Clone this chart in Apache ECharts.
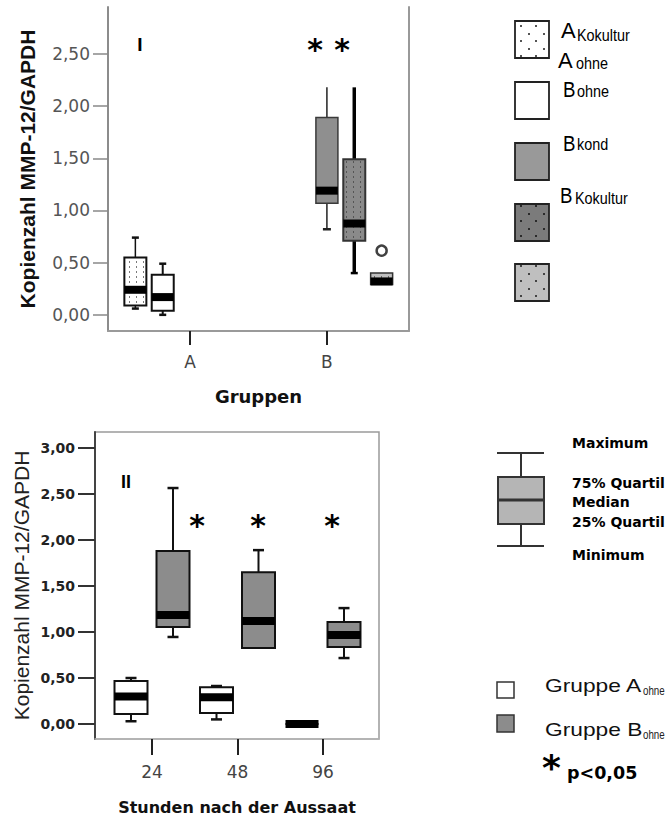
<!DOCTYPE html>
<html><head><meta charset="utf-8">
<script src="https://cdn.jsdelivr.net/npm/echarts@6/dist/echarts.min.js"></script>
<style>html,body{margin:0;padding:0;background:#fff}#c{width:666px;height:818px}</style>
</head><body><div id="c"></div>
<script>
// ---------- Panel I data ----------
const groupsI = ['A', 'B'];
const seriesNamesI = ['A Kokultur', 'A ohne', 'B ohne', 'B kond', 'B Kokultur'];
const seriesGroupI = [0, 0, 1, 1, 1];
// [min, q1, median, q3, max]
const statsI = [
  [0.06, 0.09, 0.24, 0.55, 0.74],
  [0.00, 0.04, 0.17, 0.385, 0.49],
  [0.82, 1.07, 1.19, 1.89, 2.18],
  [0.40, 0.71, 0.875, 1.49, 2.18],
  [0.29, 0.29, 0.32, 0.40, 0.40]
];
const outliersI = [[4, 0.615]];          // [series index, value]
const yTicksI = [0, 0.5, 1, 1.5, 2, 2.5];
const legendMainI = ['A', 'A', 'B', 'B', 'B'];
const legendSubI = ['Kokultur', 'ohne', 'ohne', 'kond', 'Kokultur'];

// ---------- Panel II data ----------
const hoursII = ['24', '48', '96'];
const groupNamesII = ['Gruppe A', 'Gruppe B'];
const statsIIA = [
  [0.03, 0.11, 0.30, 0.467, 0.50],
  [0.05, 0.12, 0.29, 0.40, 0.413],
  [0.00, 0.00, 0.00, 0.00, 0.00]
];
const statsIIB = [
  [0.946, 1.054, 1.185, 1.88, 2.565],
  [0.826, 0.826, 1.12, 1.65, 1.89],
  [0.717, 0.837, 0.967, 1.11, 1.26]
];
const yTicksII = [0, 0.5, 1, 1.5, 2, 2.5, 3];
const legendBoxII = ['Maximum', '75% Quartil', 'Median', '25% Quartil', 'Minimum'];

// ---------- helpers ----------
const fmt = v => v.toFixed(2).replace('.', ',');
function dotPattern(w, h, bg, fg, dots) {
  const cv = document.createElement('canvas'); cv.width = w; cv.height = h;
  const ctx = cv.getContext('2d');
  ctx.fillStyle = bg; ctx.fillRect(0, 0, w, h);
  ctx.fillStyle = fg; dots.forEach(d => ctx.fillRect(d[0], d[1], d[2], d[3]));
  return { image: cv.toDataURL(), imageWidth: w, imageHeight: h, repeat: 'repeat' };
}
const patA = dotPattern(7, 5, '#ffffff', '#7a7a7a', [[3, 1, 1, 2]]);
const patB = dotPattern(7, 5, '#8a8a8a', '#555555', [[3, 1, 1, 2]]);
const patC = dotPattern(7, 5, '#c0c0c0', '#666666', [[3, 1, 1, 2]]);
const legPat1 = dotPattern(15, 15, '#ffffff', '#555', [[3, 3, 2, 2], [10, 10, 2, 2]]);
const legPat4 = dotPattern(15, 15, '#7b7b7b', '#2a2a2a', [[3, 3, 2, 2], [10, 10, 2, 2]]);
const legPat5 = dotPattern(15, 15, '#bfbfbf', '#444', [[3, 3, 2, 2], [10, 10, 2, 2]]);

const BOX_W_I = 22, SLOT_I = 0.2, MED_H = 8;
const BOX_W_II = 33, GAP_II = 42;
const boxStyleI = [
  { fill: patA, stroke: '#111', lw: 2, wColor: '#111', wLw: 1.5, capTop: 7, capBot: 7 },
  { fill: '#fff', stroke: '#111', lw: 2, wColor: '#111', wLw: 2, capTop: 7, capBot: 7 },
  { fill: '#8f8f8f', stroke: '#3a3a3a', lw: 1.5, wColor: '#222', wLw: 1.5, capTop: 0, capBot: 8 },
  { fill: patB, stroke: '#333', lw: 2, wColor: '#000', wLw: 3.5, capTop: 0, capBot: 7 },
  { fill: patC, stroke: '#333', lw: 1.5, wColor: '#000', wLw: 2, capTop: 0, capBot: 0 }
];
const boxStyleII = [
  { fill: '#ffffff', stroke: '#111', lw: 2, wColor: '#111', wLw: 2, capTop: 11, capBot: 11 },
  { fill: '#8c8c8c', stroke: '#111', lw: 2, wColor: '#111', wLw: 2, capTop: 11, capBot: 11 }
];

function boxShapes(cx, ys, bw, st) {
  const [mn, q1, md, q3, mx] = ys;
  const L = (x1, y1, x2, y2, c, w) => ({ type: 'line', shape: { x1, y1, x2, y2 }, style: { stroke: c, lineWidth: w } });
  const ch = [];
  if (mx < q3 - 0.5) {
    ch.push(L(cx, q3, cx, mx, st.wColor, st.wLw));
    if (st.capTop) ch.push(L(cx - st.capTop / 2, mx, cx + st.capTop / 2, mx, st.wColor, 2.5));
  }
  if (mn > q1 + 0.5) {
    ch.push(L(cx, q1, cx, mn, st.wColor, st.wLw));
    if (st.capBot) ch.push(L(cx - st.capBot / 2, mn, cx + st.capBot / 2, mn, st.wColor, 2.5));
  }
  ch.push({ type: 'rect', shape: { x: cx - bw / 2, y: q3, width: bw, height: Math.max(q1 - q3, 0) },
            style: { fill: st.fill, stroke: st.stroke, lineWidth: st.lw } });
  ch.push({ type: 'rect', shape: { x: cx - bw / 2, y: md - MED_H / 2, width: bw, height: MED_H }, style: { fill: '#000' } });
  return { type: 'group', children: ch };
}

const dataI = statsI.map((s, i) => [seriesGroupI[i] + 1, i].concat(s));
function renderI(params, api) {
  const gx = api.value(0), s = api.value(1);
  const cx = api.coord([gx, 0])[0] + (s - 2) * api.size([SLOT_I, 0])[0];
  const ys = [2, 3, 4, 5, 6].map(d => api.coord([gx, api.value(d)])[1]);
  return boxShapes(cx, ys, BOX_W_I, boxStyleI[s]);
}
const outI = outliersI.map(([s, v]) => [seriesGroupI[s] + 1 + (s - 2) * SLOT_I, v]);

const dataII = [];
hoursII.forEach((h, i) => {
  dataII.push([i + 1, 0].concat(statsIIA[i]));
  dataII.push([i + 1, 1].concat(statsIIB[i]));
});
function renderII(params, api) {
  const xv = api.value(0), g = api.value(1);
  const cx = api.coord([xv, 0])[0] + (g - 0.5) * GAP_II;
  const ys = [2, 3, 4, 5, 6].map(d => api.coord([xv, api.value(d)])[1]);
  return boxShapes(cx, ys, BOX_W_II, boxStyleII[g]);
}

// ---------- graphic (legends, annotations) ----------
const T = (text, x, y, o) => Object.assign({ type: 'text', x, y, silent: true,
  style: Object.assign({ text, fontFamily: 'Liberation Sans', fontSize: 16, fill: '#000', align: 'left', verticalAlign: 'middle' }, o.style || {}) },
  o.scaleX ? { scaleX: o.scaleX } : {});
const graphic = [];
// Panel I legend
const swY = [21, 82, 143, 204, 264];
const swFill = [legPat1, '#ffffff', '#999999', legPat4, legPat5];
swY.forEach((y, i) => graphic.push({ type: 'rect', silent: true, shape: { x: 515, y, width: 34, height: 37 },
  style: { fill: swFill[i], stroke: '#222', lineWidth: 1.8 } }));
const mainPos = [[561, 30.5], [558, 60], [563, 89.5], [563, 143], [560, 195]];
const mainScale = [1, 1, 0.85, 0.85, 0.85];
const subPos = [[577, 35], [576, 63.5], [577, 91], [577, 144.5], [575, 198.5]];
legendMainI.forEach((t, i) => graphic.push(T(t, mainPos[i][0], mainPos[i][1], { style: { fontSize: 22 }, scaleX: mainScale[i] })));
legendSubI.forEach((t, i) => graphic.push(T(t, subPos[i][0], subPos[i][1], { style: { fontSize: 16 }, scaleX: 0.9 })));
// Panel I annotations
graphic.push(T('I', 140, 44, { style: { fontSize: 19, fontWeight: 'bold', align: 'center' } }));
graphic.push(T('*', 315, 49, { style: { fontFamily: 'DejaVu Sans', fontSize: 30, fontWeight: 'bold', align: 'center' } }));
graphic.push(T('*', 342, 49, { style: { fontFamily: 'DejaVu Sans', fontSize: 30, fontWeight: 'bold', align: 'center' } }));
// Panel II annotations
graphic.push(T('II', 126, 481.5, { style: { fontSize: 18, fontWeight: 'bold', align: 'center' } }));
[197, 258, 332].forEach(x => graphic.push(T('*', x, 525, { style: { fontFamily: 'DejaVu Sans', fontSize: 30, fontWeight: 'bold', align: 'center' } })));
// Panel II box legend glyph
const gl = (x1, y1, x2, y2, w) => ({ type: 'line', silent: true, shape: { x1, y1, x2, y2 }, style: { stroke: '#333', lineWidth: w } });
graphic.push(gl(497, 453, 544, 453, 2), gl(521, 453, 521, 477, 2), gl(521, 524, 521, 546, 2), gl(497, 546, 544, 546, 2));
graphic.push({ type: 'rect', silent: true, shape: { x: 498, y: 477, width: 46, height: 47 }, style: { fill: '#b5b5b5', stroke: '#333', lineWidth: 2 } });
graphic.push(gl(498, 500, 544, 500, 3));
const boxLabY = [443, 482.7, 502, 522.3, 554.7];
legendBoxII.forEach((t, i) => graphic.push(T(t, 572, boxLabY[i], { style: { fontFamily: 'DejaVu Sans', fontWeight: 'bold', fontSize: 14 } })));
// Panel II group legend
graphic.push({ type: 'rect', silent: true, shape: { x: 497, y: 682, width: 17, height: 16 }, style: { fill: '#fff', stroke: '#333', lineWidth: 1.5 } });
graphic.push({ type: 'rect', silent: true, shape: { x: 497, y: 715, width: 17, height: 17 }, style: { fill: '#8c8c8c', stroke: '#333', lineWidth: 1.5 } });
graphic.push(T(groupNamesII[0], 545, 686, { style: { fontSize: 17.5, fill: '#111' }, scaleX: 1.3 }));
graphic.push(T('ohne', 643, 690, { style: { fontSize: 13, fill: '#222' }, scaleX: 0.75 }));
graphic.push(T(groupNamesII[1], 545, 730, { style: { fontSize: 17.5, fill: '#111' }, scaleX: 1.3 }));
graphic.push(T('ohne', 643, 734, { style: { fontSize: 13, fill: '#222' }, scaleX: 0.75 }));
graphic.push(T('*', 551.5, 767, { style: { fontFamily: 'DejaVu Sans', fontSize: 36, fontWeight: 'bold', align: 'center' } }));
graphic.push(T('p<0,05', 567, 773.2, { style: { fontFamily: 'DejaVu Sans', fontSize: 17.5, fontWeight: 'bold' } }));

const chart = echarts.init(document.getElementById('c'), null, { renderer: 'svg', width: 666, height: 818 });
chart.setOption({
  animation: false,
  backgroundColor: '#ffffff',
  grid: [
    { left: 108, right: 257, top: 7, bottom: 487, outerBoundsMode: 'none', containLabel: false },
    { left: 95, right: 287, top: 432, bottom: 79, outerBoundsMode: 'none', containLabel: false,
      show: true, borderColor: '#9a9a9a', borderWidth: 1.5, backgroundColor: 'transparent' }
  ],
  xAxis: [
    { gridIndex: 0, type: 'value', min: 0.4, max: 2.6,
      axisLine: { show: true, onZero: false, lineStyle: { color: '#9a9a9a', width: 2 } },
      axisTick: { show: true, customValues: [1, 2], length: 14, lineStyle: { color: '#222', width: 2 } },
      axisLabel: { show: true, customValues: [1, 2], formatter: v => groupsI[Math.round(v) - 1], margin: 22,
                   fontFamily: 'DejaVu Sans', fontSize: 17, color: '#444' },
      splitLine: { show: false },
      name: 'Gruppen', nameLocation: 'middle', nameGap: 56,
      nameTextStyle: { fontFamily: 'DejaVu Sans', fontWeight: 'bold', fontSize: 18, color: '#111' } },
    { gridIndex: 1, type: 'value', min: 0.3333, max: 3.655,
      axisLine: { show: true, onZero: false, lineStyle: { color: '#b5b5b5', width: 1.5 } },
      axisTick: { show: true, customValues: [1, 2, 3], length: 16, lineStyle: { color: '#222', width: 2 } },
      axisLabel: { show: true, customValues: [1, 2, 3], formatter: v => hoursII[Math.round(v) - 1], margin: 24,
                   fontFamily: 'DejaVu Sans', fontSize: 17, color: '#444' },
      splitLine: { show: false },
      name: 'Stunden nach der Aussaat', nameLocation: 'middle', nameGap: 60,
      nameTextStyle: { fontFamily: 'DejaVu Sans', fontWeight: 'bold', fontSize: 16, color: '#111' } }
  ],
  yAxis: [
    { gridIndex: 0, type: 'value', min: -0.155, max: 2.95,
      axisLine: { show: true, onZero: false, lineStyle: { color: '#8c8c8c', width: 2 } },
      axisTick: { show: true, customValues: yTicksI, length: 15, lineStyle: { color: '#888', width: 1.5 } },
      axisLabel: { show: true, customValues: yTicksI, formatter: fmt, margin: 18,
                   fontFamily: 'DejaVu Sans', fontSize: 17, color: '#555' },
      splitLine: { show: false },
      name: 'Kopienzahl MMP-12/GAPDH', nameLocation: 'middle', nameGap: 70, nameRotate: 90,
      nameTextStyle: { fontFamily: 'Liberation Sans', fontWeight: 'bold', fontSize: 21, color: '#111' } },
    { gridIndex: 0, type: 'value', position: 'right', min: -0.155, max: 2.95,
      axisLine: { show: true, onZero: false, lineStyle: { color: '#999', width: 2 } },
      axisTick: { show: false }, axisLabel: { show: false }, splitLine: { show: false } },
    { gridIndex: 1, type: 'value', min: -0.163, max: 3.174,
      axisLine: { show: true, onZero: false, lineStyle: { color: '#444', width: 2 } },
      axisTick: { show: true, customValues: yTicksII, length: 17, lineStyle: { color: '#333', width: 2 } },
      axisLabel: { show: true, customValues: yTicksII, formatter: fmt, margin: 20,
                   fontFamily: 'DejaVu Sans', fontWeight: 'bold', fontSize: 14, color: '#222' },
      splitLine: { show: false },
      name: 'Kopienzahl MMP-12/GAPDH', nameLocation: 'middle', nameGap: 63, nameRotate: 90,
      nameTextStyle: { fontFamily: 'Liberation Sans', fontSize: 21, color: '#222' } }
  ],
  graphic: graphic,
  series: [
    { type: 'custom', name: 'Panel I', coordinateSystem: 'cartesian2d', xAxisIndex: 0, yAxisIndex: 0,
      data: dataI, encode: { x: 0, y: [2, 3, 4, 5, 6] }, renderItem: renderI, silent: true },
    { type: 'scatter', name: 'Ausreißer', xAxisIndex: 0, yAxisIndex: 0, data: outI, symbol: 'circle', symbolSize: 10,
      itemStyle: { color: '#fff', borderColor: '#111', borderWidth: 2.5 }, silent: true },
    { type: 'custom', name: 'Panel II', coordinateSystem: 'cartesian2d', xAxisIndex: 1, yAxisIndex: 2,
      data: dataII, encode: { x: 0, y: [2, 3, 4, 5, 6] }, renderItem: renderII, silent: true }
  ]
});
</script>
</body></html>
